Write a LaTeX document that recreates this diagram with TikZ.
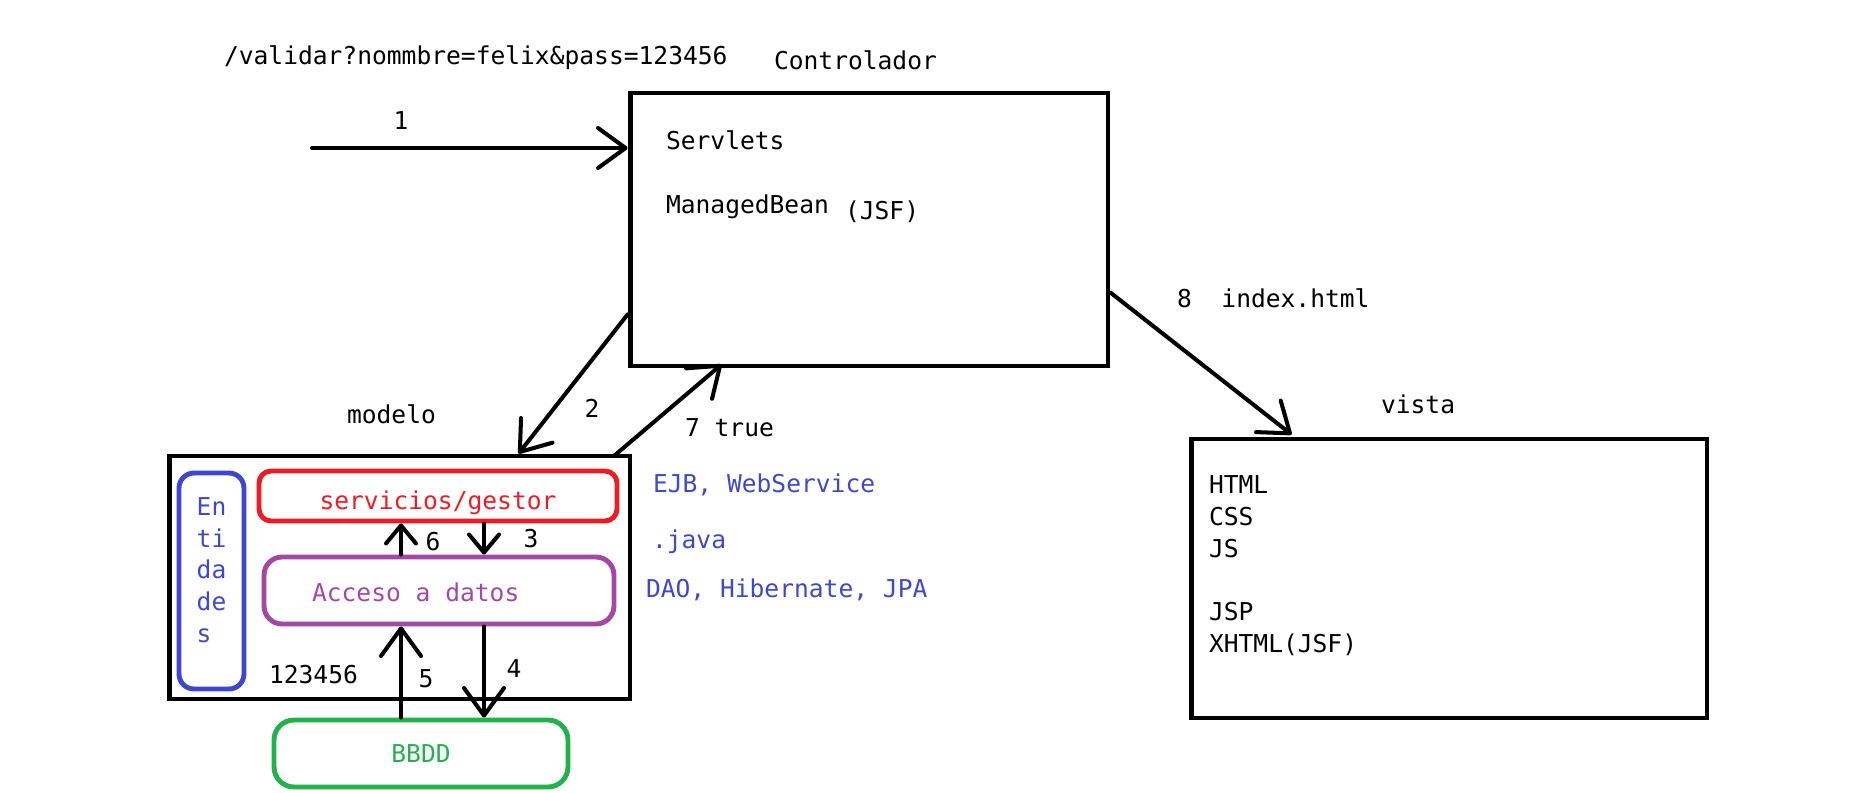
\documentclass[tikz,border=0pt]{standalone}
\usepackage{fontspec}
\newfontfamily\paintfont{DejaVu Sans Mono}
\usetikzlibrary{arrows.meta,calc}
\definecolor{pred}{RGB}{237,28,36}
\definecolor{ppurple}{RGB}{163,73,164}
\definecolor{pgreen}{RGB}{34,177,76}
\definecolor{pblue}{RGB}{63,72,204}
\begin{document}
\begin{tikzpicture}[x=0.02cm, y=-0.02cm, line width=2.3pt,
  every node/.style={font=\paintfont\fontsize{14}{18}\selectfont, inner sep=0pt},
  box/.style={draw, line width=2.8pt, inner sep=0pt},
  lbl/.style={anchor=west, text height=0.73em, text depth=0pt, yshift=-0.05cm},
  arr/.style={-{Straight Barb[length=0.55cm,width=0.8cm,round]}, line cap=round},
  sarr/.style={-{Straight Barb[length=0.36cm,width=0.6cm,round]}, line cap=round}]
\useasboundingbox (0,0) rectangle (1870,792);
% controlador
\node[box, minimum width=9.56cm, minimum height=5.46cm] (ctrl) at (869,229.5) {};
\node[lbl] (ctrllbl) at (772,61) {Controlador};
\node[lbl] (srv) at (664,141) {Servlets};
\node[lbl] (mb) at (664,205) {ManagedBean};
\node[lbl] (jsf) at (843,211) {(JSF)};
\node[lbl] (url) at (222,56) {/validar?nommbre=felix\&pass=123456};
\coordinate (req) at (312,148);
\draw[arr] (req) -- (req -| ctrl.west);
\node (one) at (401,121) {1};
% modelo
\node[box, minimum width=9.22cm, minimum height=4.86cm] (mod) at (399.5,577.5) {};
\node[lbl] (modlbl) at (345,415) {modelo};
\node[box, draw=pblue, rounded corners=0.3cm, minimum width=1.3cm, minimum height=4.32cm,
  label={[text=pblue, align=left, yshift=0.22cm]center:{En\\ti\\da\\de\\s}}] (ent) at (211.5,581) {};
\node[box, draw=pred, rounded corners=0.24cm, minimum width=7.16cm, minimum height=1cm,
  label={[text=pred, yshift=-0.14cm]center:servicios/gestor}] (serv) at (438,496) {};
\node[box, draw=ppurple, rounded corners=0.36cm, minimum width=7cm, minimum height=1.34cm] (acc) at (439,590.5) {};
\node[lbl, text=ppurple] (acctxt) at (310,593) {Acceso a datos};
\node[box, draw=pgreen, rounded corners=0.4cm, minimum width=5.88cm, minimum height=1.34cm,
  text=pgreen] (bbdd) at (421,753.5) {BBDD};
\node[lbl] (pwd) at (267,675) {123456};
\coordinate (xup) at (401,0);
\coordinate (xdn) at (484,0);
\draw[sarr] (acc.north -| xup) -- (serv.south -| xup);
\draw[sarr] (serv.south -| xdn) -- (acc.north -| xdn);
\draw[arr] (bbdd.north -| xup) -- (acc.south -| xup);
\draw[arr] (acc.south -| xdn) -- (bbdd.north -| xdn);
\node (six) at (433,542) {6};
\node (three) at (531,539) {3};
\node (five) at (426,679) {5};
\node (four) at (514,669) {4};
\node[lbl, text=pblue] (ejb) at (651,484) {EJB, WebService};
\node[lbl, text=pblue] (java) at (650,540) {.java};
\node[lbl, text=pblue] (dao) at (644,589) {DAO, Hibernate, JPA};
% peticion y respuesta
\draw[arr] ($(ctrl.south west)+(0,-54)$) -- ($(mod.north west)+(352,0)$);
\draw[arr] ($(mod.north east)+(-18,2)$) -- ($(ctrl.south west)+(94,-4)$);
\node (two) at (592,408) {2};
\node[lbl] (seven) at (683,428) {7 true};
% vista
\node[box, minimum width=10.32cm, minimum height=5.58cm] (vista) at (1449,578.5) {};
\node[lbl] (vistalbl) at (1379,405) {vista};
\node[anchor=north west, align=left] (vistatxt) at (1207,474) {HTML\\CSS\\JS\\[18pt]JSP\\XHTML(JSF)};
\draw[arr] ($(ctrl.north east)+(0,202)$) -- ($(vista.north west)+(103,-2)$);
\node[lbl] (eight) at (1175,299) {8\ \ index.html};
\end{tikzpicture}
\end{document}
